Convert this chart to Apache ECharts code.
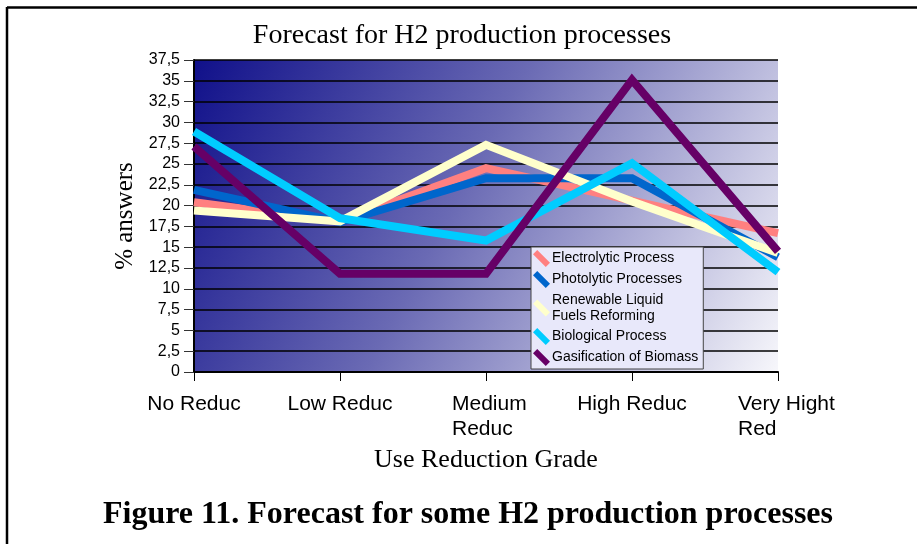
<!DOCTYPE html>
<html>
<head>
<meta charset="utf-8">
<script src="https://cdn.jsdelivr.net/npm/echarts@6/dist/echarts.min.js"></script>
<style>
html,body{margin:0;padding:0;background:#fff;}
#c{width:917px;height:544px;}
</style>
</head>
<body>
<div id="c"></div>
<script>
const categories = ['No Reduc', 'Low Reduc', 'Medium\nReduc', 'High Reduc', 'Very Hight\nRed'];
const seriesNames = ['Electrolytic Process', 'Photolytic Processes', 'Renewable Liquid\nFuels Reforming', 'Biological Process', 'Gasification of Biomass'];
const electrolytic = [20.4, 18.1, 24.5, 20.6, 16.7];
const photolytic = [21.9, 18.0, 23.3, 23.3, 13.8];
const renewable = [19.4, 18.1, 27.3, 20.5, 14.3];
const biological = [28.9, 18.5, 15.8, 25.1, 12.0];
const gasification = [27.1, 11.8, 11.8, 35.1, 14.5];
const yTicks = { min: 0, max: 37.5, interval: 2.5 };
const colors = ['#ff8080', '#0066cc', '#ffffcc', '#00ccff', '#660066'];

const chart = echarts.init(document.getElementById('c'), null, { renderer: 'canvas' });
const dataSets = [electrolytic, photolytic, renewable, biological, gasification];
const iconPath = 'path://M0,4 L4,0 L16,12 L12,16 Z';
const labelFont = { fontFamily: 'Liberation Sans', fontSize: 21, color: '#000', lineHeight: 25 };

chart.setOption({
  animation: false,
  backgroundColor: '#fff',
  title: {
    text: 'Forecast for H2 production processes',
    left: 457, top: 17, textAlign: 'center',
    textStyle: { fontFamily: 'Liberation Serif', fontSize: 28, fontWeight: 'normal', color: '#000' }
  },
  graphic: [
    { type: 'line', shape: { x1: 7, y1: 7.5, x2: 917, y2: 7.5 }, style: { stroke: '#000', lineWidth: 2.5 } },
    { type: 'line', shape: { x1: 7, y1: 7, x2: 7, y2: 544 }, style: { stroke: '#000', lineWidth: 2.5 } },
    { type: 'text', left: 103, top: 499, style: { text: 'Figure 11. Forecast for some H2 production processes', font: 'bold 32px "Liberation Serif"', fill: '#000' } }
  ],
  grid: {
    left: 194, right: 139, top: 60, bottom: 172, show: true, borderWidth: 0,
    backgroundColor: {
      type: 'linear', x: 0, y: 0, x2: 1, y2: 1,
      colorStops: [
        { offset: 0, color: '#10108a' },
        { offset: 0.45, color: '#6a6ab4' },
        { offset: 1, color: '#f7f7fb' }
      ]
    }
  },
  legend: {
    orient: 'vertical', left: 531, top: 247,
    backgroundColor: '#e8e8fa', borderColor: '#444', borderWidth: 1,
    padding: [3, 5, 3, 2], itemGap: 4, itemWidth: 17, itemHeight: 17,
    icon: iconPath,
    textStyle: { fontFamily: 'Liberation Sans', fontSize: 14, color: '#000', lineHeight: 16, padding: [0, 0, 0, -3] },
    data: seriesNames
  },
  xAxis: {
    type: 'category', data: categories, boundaryGap: false,
    name: 'Use Reduction Grade', nameLocation: 'middle', nameGap: 75,
    nameTextStyle: { fontFamily: 'Liberation Serif', fontSize: 26, color: '#000' },
    axisLine: { lineStyle: { color: '#000', width: 2 } },
    axisTick: { show: true, length: 9, lineStyle: { color: '#000', width: 1 } },
    axisLabel: {
      ...labelFont, margin: 20, interval: 0,
      formatter: v => {
        if (v.indexOf('\n') < 0) return v;
        const key = v.startsWith('Medium') ? 'm' : 'v';
        return v.split('\n').map(s => '{' + key + '|' + s + '}').join('\n');
      },
      rich: {
        m: { ...labelFont, width: 80, align: 'left', padding: [0, 0, 0, 12] },
        v: { ...labelFont, width: 98, align: 'left', padding: [0, 0, 0, 18] }
      }
    }
  },
  yAxis: {
    type: 'value', min: yTicks.min, max: yTicks.max, interval: yTicks.interval,
    name: '% answers', nameLocation: 'middle', nameGap: 46,
    nameTextStyle: { fontFamily: 'Liberation Serif', fontSize: 25, color: '#000' },
    axisLine: { show: true, lineStyle: { color: '#000', width: 2 } },
    axisTick: { show: true, length: 10, lineStyle: { color: '#333', width: 1 } },
    axisLabel: { fontFamily: 'Liberation Sans', fontSize: 16, color: '#000', margin: 14, formatter: v => String(v).replace('.', ',') },
    splitLine: { show: true, lineStyle: { color: '#000', width: 1.5 } }
  },
  series: dataSets.map((d, i) => ({
    name: seriesNames[i], type: 'line', data: d, symbol: 'none',
    itemStyle: { color: colors[i] },
    lineStyle: { color: colors[i], width: 8, join: 'miter', cap: 'butt' },
    z: 2 + i
  }))
});
</script>
</body>
</html>
